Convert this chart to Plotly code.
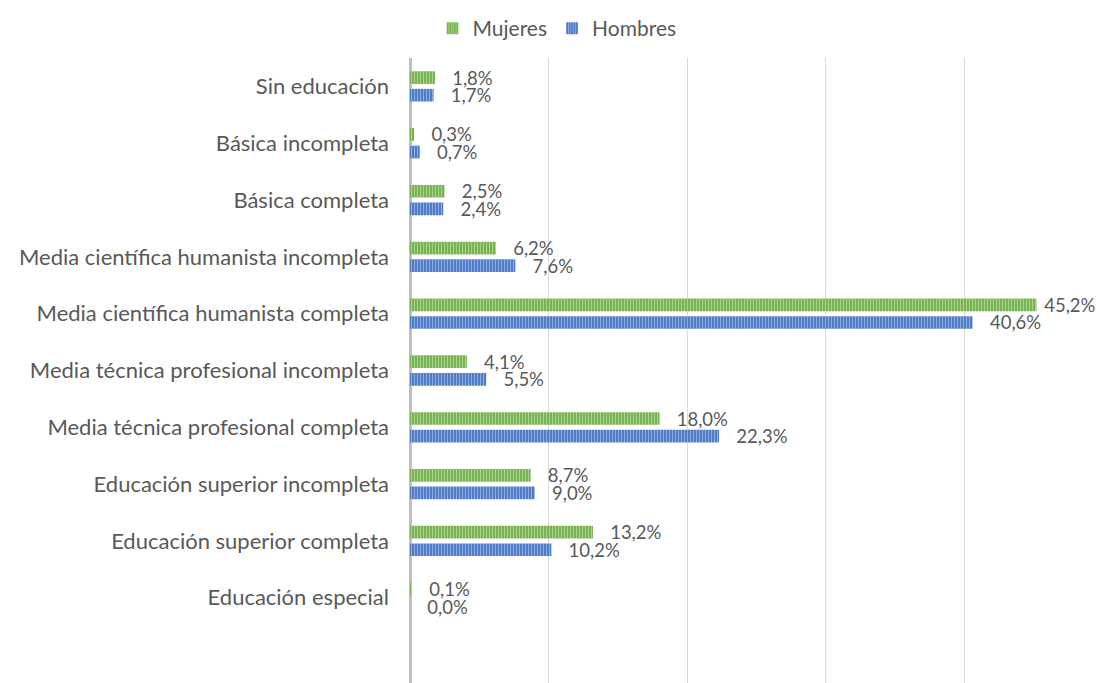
import plotly.graph_objects as go

categories = [
    "Sin educación",
    "Básica incompleta",
    "Básica completa",
    "Media científica humanista incompleta",
    "Media científica humanista completa",
    "Media técnica profesional incompleta",
    "Media técnica profesional completa",
    "Educación superior incompleta",
    "Educación superior completa",
    "Educación especial",
]
mujeres = [1.8, 0.3, 2.5, 6.2, 45.2, 4.1, 18.0, 8.7, 13.2, 0.1]
hombres = [1.7, 0.7, 2.4, 7.6, 40.6, 5.5, 22.3, 9.0, 10.2, 0.0]

FONT = "Lato"
TXT = "#595959"
XMAX = 50


def label(v):
    # labels near the right edge sit closer to the bar end (as in the original)
    pad = "\u00a0" if v > XMAX - 7 else "\u00a0\u00a0\u00a0"
    return pad + f"{v:.1f}%".replace(".", ",")


fig = go.Figure()
fig.add_trace(go.Bar(
    y=categories, x=mujeres, name="Mujeres", orientation="h",
    marker=dict(color="#70AD47", line=dict(width=0),
                pattern=dict(shape="|", bgcolor="#70AD47", fgcolor="#A9D18E",
                             size=3, solidity=0.45, fillmode="replace")),
    text=[label(v) for v in mujeres], texttemplate="%{text}",
    textposition="outside", constraintext="none",
    cliponaxis=False, textfont=dict(family=FONT, size=18.5, color=TXT),
))
fig.add_trace(go.Bar(
    y=categories, x=hombres, name="Hombres", orientation="h",
    marker=dict(color="#4472C4", line=dict(width=0),
                pattern=dict(shape="|", bgcolor="#4472C4", fgcolor="#8FAADC",
                             size=3, solidity=0.45, fillmode="replace")),
    text=[label(v) for v in hombres], texttemplate="%{text}",
    textposition="outside", constraintext="none",
    cliponaxis=False, textfont=dict(family=FONT, size=18.5, color=TXT),
))

fig.update_layout(
    width=1098, height=675,
    barmode="group", bargap=0.38, bargroupgap=0.28,
    plot_bgcolor="white", paper_bgcolor="white",
    margin=dict(l=402, r=3, t=50, b=0),
    font=dict(family=FONT, size=22, color=TXT),
    legend=dict(orientation="h", x=0.5, xanchor="center", xref="container",
                y=1.0, yanchor="top", yref="container",
                font=dict(family=FONT, size=21, color=TXT),
                traceorder="normal", itemwidth=30),
    showlegend=True,
)
fig.update_xaxes(range=[0, XMAX], dtick=10, showticklabels=False, showgrid=True,
                 gridcolor="#D9D9D9", gridwidth=1, zeroline=True,
                 zerolinecolor="#BFBFBF", zerolinewidth=3, showline=False)
fig.update_yaxes(categoryorder="array", categoryarray=categories,
                 range=[10.5, -0.5], showgrid=False, ticks="", ticklen=0,
                 ticklabelstandoff=20,
                 tickfont=dict(family=FONT, size=22, color=TXT))

fig.write_html("out.html")
